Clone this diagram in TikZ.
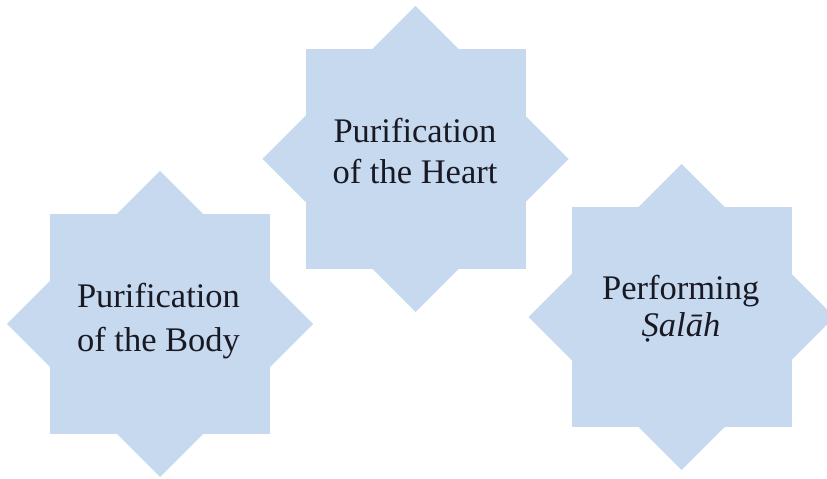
\documentclass[tikz,border=0pt]{standalone}
\usepackage{fontspec}
\setmainfont{Liberation Serif}
\definecolor{starblue}{RGB}{198,217,239}
\definecolor{inkdark}{RGB}{25,25,35}
\tikzset{
  starfill/.style={fill=starblue},
  lbl/.style={anchor=base,inner sep=0pt,text=inkdark,font=\fontsize{34.5}{43}\selectfont}
}
\newcommand\eightstar[2]{%
  \fill[starfill] ({#1-110},{#2-110}) rectangle ({#1+110},{#2+110});
  \fill[starfill] ({#1},{#2+153}) -- ({#1+153},{#2}) -- ({#1},{#2-153}) -- ({#1-153},{#2}) -- cycle;
}
\begin{document}
\begin{tikzpicture}[x=1pt,y=1pt]
\useasboundingbox[fill=white] (0,0) rectangle (827,479);
\eightstar{160}{155}
\eightstar{415.5}{320}
\eightstar{681.5}{162}
\node[lbl] (bodyA) at (158.5,171) {Purification};
\node[lbl] (bodyB) at (158.5,127) {of the Body};
\node[lbl] (heartA) at (415,336) {Purification};
\node[lbl] (heartB) at (415,295) {of the Heart};
\node[lbl] (salahA) at (680.7,179) {Performing};
\node[lbl] (salahB) at (681,142) {\textit{Ṣalāh}};
\end{tikzpicture}
\end{document}
